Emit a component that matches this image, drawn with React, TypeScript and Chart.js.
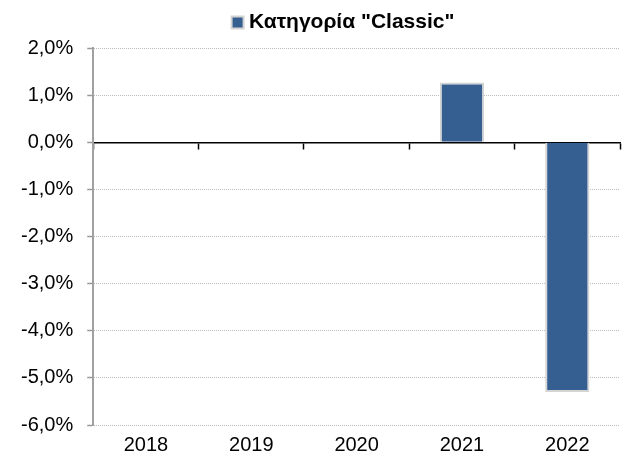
import React, { useEffect, useRef } from "react";
import { Chart, registerables } from "chart.js";

Chart.register(...registerables);

const categories = ["2018", "2019", "2020", "2021", "2022"];
const seriesName = 'Κατηγορία "Classic"';
const seriesValues = [0, 0, 0, 1.27, -5.3];
const yMin = -6;
const yMax = 2;
const yStep = 1;

const legendShift = {
  id: "legendShift",
  afterLayout(chart: any) {
    const lg = chart.legend;
    if (!lg) return;
    lg.left += 32;
    lg.right += 32;
    lg.top -= 5;
    lg.bottom -= 5;
  },
};

export default function App() {
  const ref = useRef<HTMLCanvasElement | null>(null);
  useEffect(() => {
    if (!ref.current) return;
    const font = "'Liberation Sans', Arial, sans-serif";
    const chart = new Chart(ref.current, {
      type: "bar",
      data: {
        labels: categories,
        datasets: [
          {
            label: seriesName,
            data: seriesValues,
            backgroundColor: "#365f91",
            borderColor: "#d4d4d4",
            borderWidth: 2,
            barPercentage: 0.42,
            categoryPercentage: 1,
            xAxisID: "x",
          },
        ],
      },
      plugins: [legendShift],
      options: {
        animation: false,
        responsive: false,
        devicePixelRatio: 1,
        layout: { padding: { left: 7, right: 6, top: 7, bottom: -8 } },
        plugins: {
          legend: {
            display: true,
            position: "top",
            labels: {
              usePointStyle: true,
              pointStyle: "rect",
              boxWidth: 2,
              boxHeight: 12,
              padding: 10,
              color: "#000",
              font: { family: font, size: 21, weight: "bold" },
            },
          },
          tooltip: { enabled: false },
        },
        scales: {
          x: {
            type: "category",
            position: "bottom",
            grid: { display: false, drawTicks: false },
            border: { display: false },
            ticks: {
              color: "#000",
              padding: 8,
              font: { family: font, size: 20 },
            },
          },
          x2: {
            type: "category",
            labels: categories,
            position: { y: 0 },
            grid: {
              offset: true,
              drawOnChartArea: false,
              drawTicks: true,
              tickLength: 6,
              tickColor: "#000",
              tickWidth: 1.5,
            },
            border: { display: true, color: "#000", width: 1.5 },
            ticks: { display: false },
          },
          y: {
            min: yMin,
            max: yMax,
            ticks: {
              stepSize: yStep,
              color: "#000",
              padding: 14,
              font: { family: font, size: 20 },
              callback: (v: any) => Number(v).toFixed(1).replace(".", ",") + "%",
            },
            grid: {
              color: "#bcbcbc",
              lineWidth: 1,
              tickLength: 6,
              tickColor: "#999",
              tickWidth: 1.5,
              tickBorderDash: [],
            },
            border: { display: true, color: "#a0a0a0", width: 2, dash: [1, 1] },
          },
        },
      },
    });
    return () => chart.destroy();
  }, []);
  return (
    <div style={{ position: "absolute", left: 0, top: 0, width: 626, height: 457 }}>
      <canvas ref={ref} width={626} height={457} style={{ display: "block", width: 626, height: 457 }} />
    </div>
  );
}
